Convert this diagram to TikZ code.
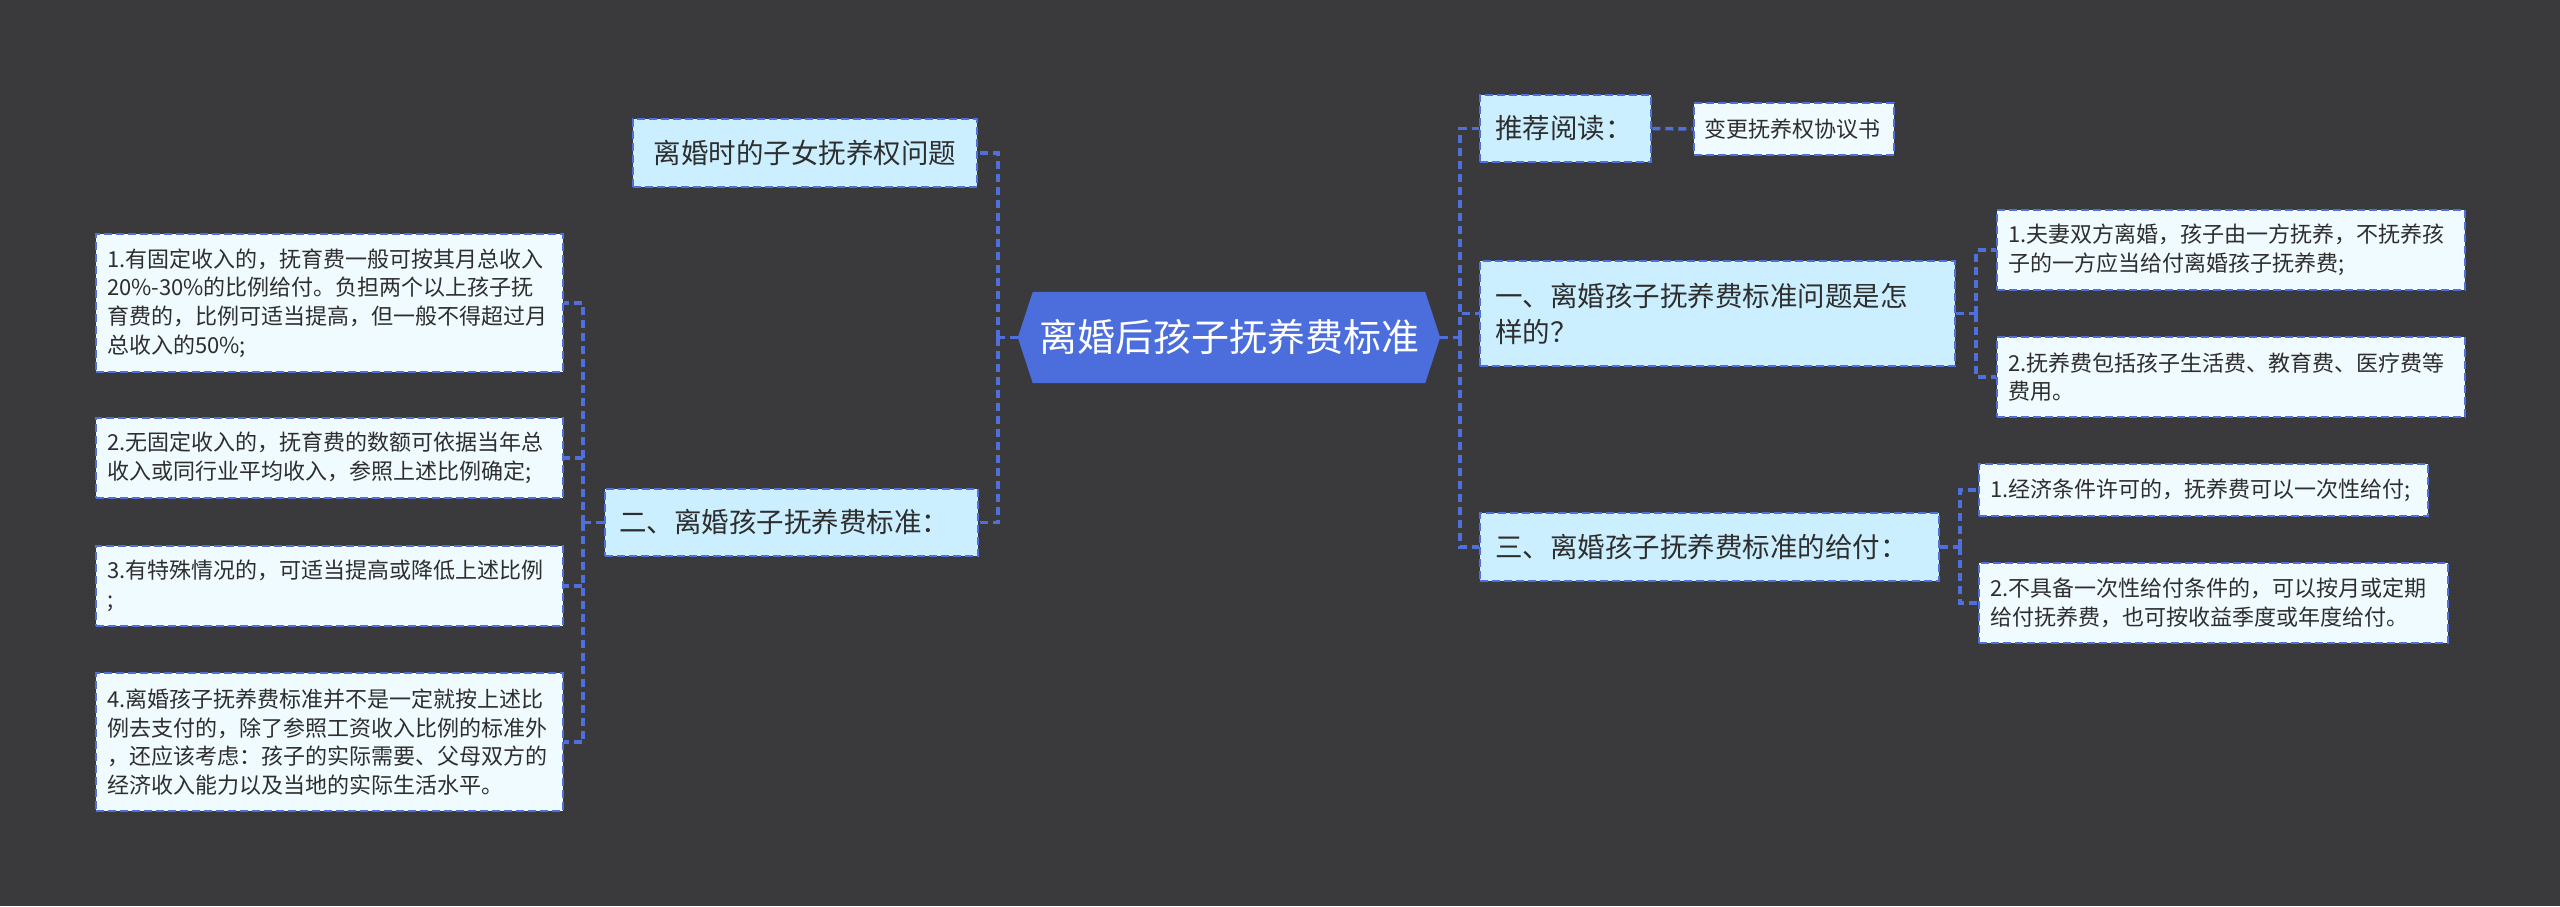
\documentclass[tikz,border=0pt]{standalone}
\usepackage{fontspec}
\setmainfont{Noto Sans CJK SC}
\usetikzlibrary{backgrounds}
\definecolor{bgc}{HTML}{3A3A3C}
\definecolor{rootc}{HTML}{4B6EDC}
\definecolor{lvc}{HTML}{CCEFFF}
\definecolor{leafc}{HTML}{F0FBFF}
\definecolor{edgec}{HTML}{4F6FDA}
\definecolor{txtc}{HTML}{2E2E2E}
\tikzset{
  box/.style={draw=edgec, line width=2.5pt, dash pattern=on 8pt off 4pt, text=txtc, align=left, inner ysep=0pt, anchor=center},
  lv/.style={box, fill=lvc, font=\fontsize{27.5}{36}\selectfont},
  leaf/.style={box, fill=leafc, font=\fontsize{22}{28.6}\selectfont},
  conn/.style={draw=edgec, line width=3.5pt, dash pattern=on 8pt off 5pt},
}
\begin{document}
\begin{tikzpicture}[x=1pt,y=-1pt]
\useasboundingbox (0,0) rectangle (2560,906);
% root
\node[text=white, font=\fontsize{38}{44}\selectfont, minimum width=422pt, minimum height=91pt, inner sep=0pt] (root) at (1229,337.5) {离婚后孩子抚养费标准};
\begin{pgfonlayer}{background}
\fill[bgc] (0,0) rectangle (2560,906);
\fill[rootc] (root.west) -- ([xshift=15pt]root.north west) -- ([xshift=-15pt]root.north east) -- (root.east) -- ([xshift=-15pt]root.south east) -- ([xshift=15pt]root.south west) -- cycle;
\end{pgfonlayer}
% left side
\node[lv, text width=312pt, inner xsep=16pt, minimum height=68pt, align=center] (L0) at (805,153) {离婚时的子女抚养权问题};
\node[lv, text width=345pt, inner xsep=14pt, minimum height=67pt] (Lb) at (791.5,522.5) {二、离婚孩子抚养费标准：};
\node[leaf, text width=445pt, inner xsep=11pt, minimum height=138pt] (L1) at (329.5,303) {1.有固定收入的，抚育费一般可按其月总收入\\20\%-30\%的比例给付。负担两个以上孩子抚\\育费的，比例可适当提高，但一般不得超过月\\总收入的50\%;};
\node[leaf, text width=445pt, inner xsep=11pt, minimum height=80pt] (L2) at (329.5,458) {2.无固定收入的，抚育费的数额可依据当年总\\收入或同行业平均收入，参照上述比例确定;};
\node[leaf, text width=445pt, inner xsep=11pt, minimum height=80pt] (L3) at (329.5,586) {3.有特殊情况的，可适当提高或降低上述比例\\;};
\node[leaf, text width=445pt, inner xsep=11pt, minimum height=138pt] (L4) at (329.5,742) {4.离婚孩子抚养费标准并不是一定就按上述比\\例去支付的，除了参照工资收入比例的标准外\\，还应该考虑：孩子的实际需要、父母双方的\\经济收入能力以及当地的实际生活水平。};
% right side
\node[lv, text width=141pt, inner xsep=15pt, minimum height=67pt] (R0) at (1565.5,128.5) {推荐阅读：};
\node[leaf, text width=180pt, inner xsep=10pt, minimum height=52pt] (R0a) at (1794,129) {变更抚养权协议书};
\node[lv, text width=445pt, inner xsep=15pt, minimum height=105pt] (R1) at (1717.5,313.5) {一、离婚孩子抚养费标准问题是怎\\样的？};
\node[leaf, text width=446pt, inner xsep=11pt, minimum height=80pt] (R1a) at (2231,250) {1.夫妻双方离婚，孩子由一方抚养，不抚养孩\\子的一方应当给付离婚孩子抚养费;};
\node[leaf, text width=446pt, inner xsep=11pt, minimum height=80pt] (R1b) at (2231,377) {2.抚养费包括孩子生活费、教育费、医疗费等\\费用。};
\node[lv, text width=429pt, inner xsep=15pt, minimum height=68pt] (R3) at (1709.5,547) {三、离婚孩子抚养费标准的给付：};
\node[leaf, text width=427pt, inner xsep=11pt, minimum height=52pt] (R3a) at (2203.5,490) {1.经济条件许可的，抚养费可以一次性给付;};
\node[leaf, text width=447pt, inner xsep=11pt, minimum height=80pt] (R3b) at (2213.5,603) {2.不具备一次性给付条件的，可以按月或定期\\给付抚养费，也可按收益季度或年度给付。};
% connectors
\coordinate (lsp) at (998,337.5);
\draw[conn] (root.west) -- (lsp);
\draw[conn] (lsp) |- (L0.east);
\draw[conn] (lsp) |- (Lb.east);
\coordinate (lsp2) at (583,522.5);
\draw[conn] (Lb.west) -- (lsp2);
\draw[conn] (lsp2) |- (L1.east);
\draw[conn] (lsp2) |- (L2.east);
\draw[conn] (lsp2) |- (L3.east);
\draw[conn] (lsp2) |- (L4.east);
\coordinate (rsp) at (1460,337.5);
\draw[conn] (root.east) -- (rsp);
\draw[conn] (rsp) |- (R0.west);
\draw[conn] (rsp) |- (R1.west);
\draw[conn] (rsp) |- (R3.west);
\draw[conn] (R0.east) -- (R0a.west);
\coordinate (r1sp) at (1976,313.5);
\draw[conn] (R1.east) -- (r1sp);
\draw[conn] (r1sp) |- (R1a.west);
\draw[conn] (r1sp) |- (R1b.west);
\coordinate (r3sp) at (1960,547);
\draw[conn] (R3.east) -- (r3sp);
\draw[conn] (r3sp) |- (R3a.west);
\draw[conn] (r3sp) |- (R3b.west);
\end{tikzpicture}
\end{document}
